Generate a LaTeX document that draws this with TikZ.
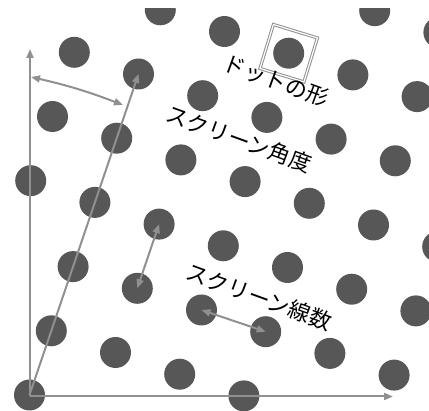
\documentclass[tikz,border=0pt]{standalone}
\usepackage{fontspec}
\newfontfamily\jpfont{Noto Sans CJK JP}
\usetikzlibrary{arrows.meta}
\definecolor{dotgray}{HTML}{575757}
\definecolor{linegray}{HTML}{909090}
\begin{document}
\begin{tikzpicture}[x=1pt,y=-1pt,
  dotnode/.style={circle,fill=dotgray,minimum size=31pt,inner sep=0pt},
  axisline/.style={draw=linegray,line width=2pt,-{Triangle[length=9pt,width=7pt]}},
  dimline/.style={draw=linegray,line width=2pt,{Triangle[length=9pt,width=7pt]}-{Triangle[length=9pt,width=7pt]}},
  lbl/.style={font=\jpfont\fontsize{22}{22}\selectfont,rotate=-20,inner sep=0pt},
  shapebox/.style={draw=linegray,double=white,double distance=1.2pt,line width=1pt,minimum size=46pt,inner sep=0pt,rotate=-17},
]
\useasboundingbox (0,0) rectangle (429,411);
\begin{scope}
\clip (0,9) rectangle (429,411);
\foreach \i/\j in {3/-1,4/-1,5/-1,
  0/0,1/0,2/0,3/0,4/0,5/0,6/0,
  1/1,2/1,3/1,4/1,5/1,6/1,
  1/2,2/2,3/2,4/2,5/2,6/2,
  1/3,2/3,3/3,4/3,5/3,6/3,7/3,
  2/4,3/4,4/4,5/4,6/4,7/4,
  2/5,3/5,4/5}{
  \pgfmathtruncatemacro\k{\j+1}
  \node[dotnode] (d-\i-\k) at ({29.5+21.8*\i+64.2*\j},{395-64.2*\i+21.7*\j}) {};
}
\end{scope}
\coordinate (O) at (30,396.5);
\coordinate (ytip) at (30,49);
\coordinate (xtip) at (393,396.5);
\draw[axisline] (O) -- (ytip);
\draw[axisline] (O) -- (xtip);
\draw[axisline] (d-0-1.center) -- (d-5-1.center);
\coordinate (a1) at (31,77);
\coordinate (a2) at (123,105);
\draw[dimline] (a1) to[bend left=4] (a2);
\draw[dimline] (d-3-2.center) -- (d-2-2.center);
\draw[dimline] (d-2-3.center) -- (d-2-4.center);
\node[shapebox] (shape) at (d-6-3) {};
\node[lbl] (t1) at (276,81) {ドットの形};
\node[lbl] (t2) at (239,139) {スクリーン角度};
\node[lbl] (t3) at (259,297) {スクリーン線数};
\end{tikzpicture}
\end{document}
